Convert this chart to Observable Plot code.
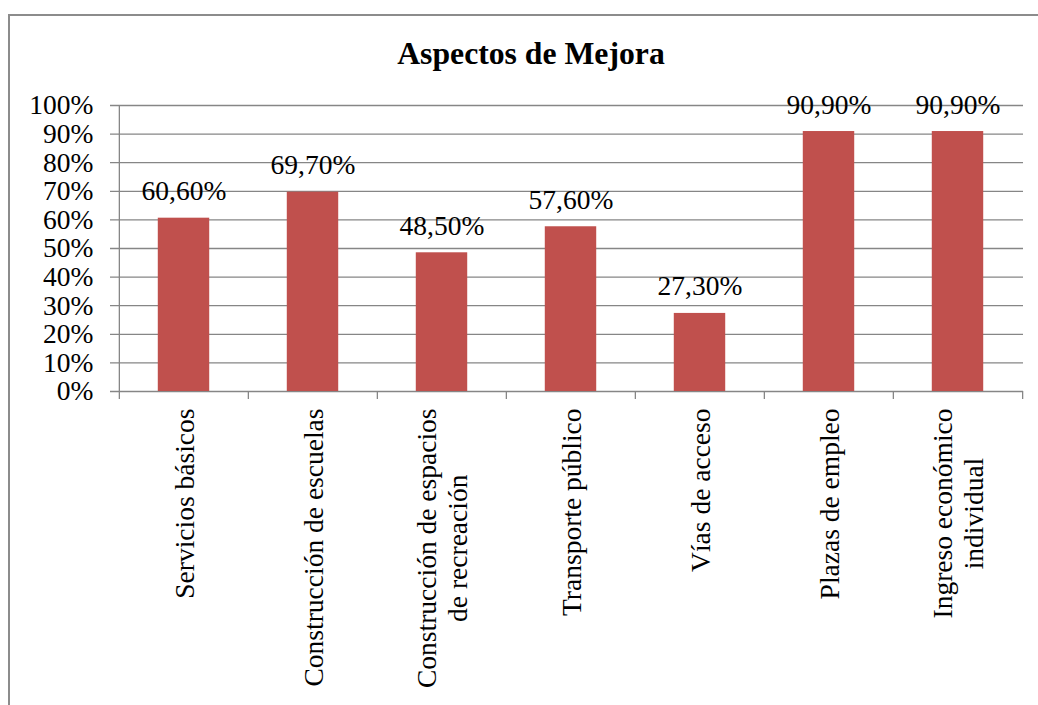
<!DOCTYPE html>
<html><head><meta charset="utf-8">
<script src="https://cdn.jsdelivr.net/npm/d3@7"></script>
<script src="https://cdn.jsdelivr.net/npm/@observablehq/plot@0.6"></script>
<style>
html,body{margin:0;padding:0;background:#fff;overflow:hidden;}
#wrap{position:relative;width:1038px;height:705px;overflow:hidden;}
#border{position:absolute;left:8px;top:14px;width:1100px;height:800px;border:2px solid #8c8c8c;}
#title{position:absolute;left:0;top:38px;width:1062px;text-align:center;font:bold 31.7px 'Liberation Serif','Times New Roman',serif;line-height:32px;color:#000;}
#chart{position:absolute;left:0;top:0;}
</style></head><body>
<div id="wrap"><div id="border"></div><div id="title">Aspectos de Mejora</div><div id="chart"></div></div>
<script>
const categories = ["Servicios básicos", "Construcción de escuelas", "Construcción de espacios de recreación", "Transporte público", "Vías de acceso", "Plazas de empleo", "Ingreso económico individual"];
const categoryLabels = ["Servicios básicos", "Construcción de escuelas", "Construcción de espacios\nde recreación", "Transporte público", "Vías de acceso", "Plazas de empleo", "Ingreso económico\nindividual"];
const values = [60.6, 69.7, 48.5, 57.6, 27.3, 90.9, 90.9];
const yTicks = [0, 10, 20, 30, 40, 50, 60, 70, 80, 90, 100];

const data = categories.map((c, i) => ({cat: c, val: values[i]}));
const labelOf = new Map(categories.map((c, i) => [c, categoryLabels[i]]));

const W = 1038, H = 705, ML = 118, MR = 15, MT = 105, MB = 314;
const bw = (W - ML - MR) / categories.length;
const grid = "#868686";
const font = "'Liberation Serif','Times New Roman',serif";
const FS = 27.5;
const fmt = v => v.toFixed(2).replace(".", ",") + "%";

const chart = Plot.plot({
  width: W, height: H,
  marginLeft: ML, marginRight: MR, marginTop: MT, marginBottom: MB,
  style: {fontFamily: font, fontSize: FS + "px", background: "transparent", color: "#000"},
  x: {domain: categories, padding: 0},
  y: {domain: [0, 100]},
  marks: [
    Plot.ruleY(yTicks, {y: d => d, stroke: grid, strokeWidth: 1.3, insetLeft: -8}),
    Plot.ruleX([categories[0]], {x: d => d, y1: 100, y2: 0, dx: -bw / 2, insetBottom: -8, stroke: grid, strokeWidth: 1.3}),
    Plot.ruleX(categories.slice(1), {x: d => d, y1: 0, y2: 0, dx: -bw / 2, insetBottom: -8, stroke: grid, strokeWidth: 1.3}),
    Plot.ruleX([categories[categories.length - 1]], {x: d => d, y1: 0, y2: 0, dx: bw / 2, insetBottom: -8, stroke: grid, strokeWidth: 1.3}),
    Plot.barY(data, {x: "cat", y: "val", fill: "#C0504D", insetLeft: 0.3 * bw, insetRight: 0.3 * bw}),
    Plot.text(data, {x: "cat", y: "val", text: d => fmt(d.val), dy: -18, lineAnchor: "bottom", fontSize: FS, fill: "#000"}),
    Plot.axisY({ticks: yTicks, tickSize: 0, tickPadding: 25, tickFormat: d => d + "%", fontSize: FS, fill: "#000", label: null}),
    Plot.axisX({tickSize: 0, tickPadding: 17, tickRotate: -90, tickFormat: d => labelOf.get(d), fontSize: FS, lineHeight: 1.13, fill: "#000", label: null})
  ]
});
document.getElementById("chart").appendChild(chart);

chart.querySelectorAll('g[aria-label="x-axis tick label"] text').forEach(t => {
  const ts = t.querySelectorAll("tspan");
  if (ts.length > 1) {
    const L = Math.max(...[...ts].map(s => s.getComputedTextLength()));
    t.setAttribute("text-anchor", "middle");
    ts.forEach(s => s.setAttribute("x", -L / 2));
  }
});
</script>
</body></html>
